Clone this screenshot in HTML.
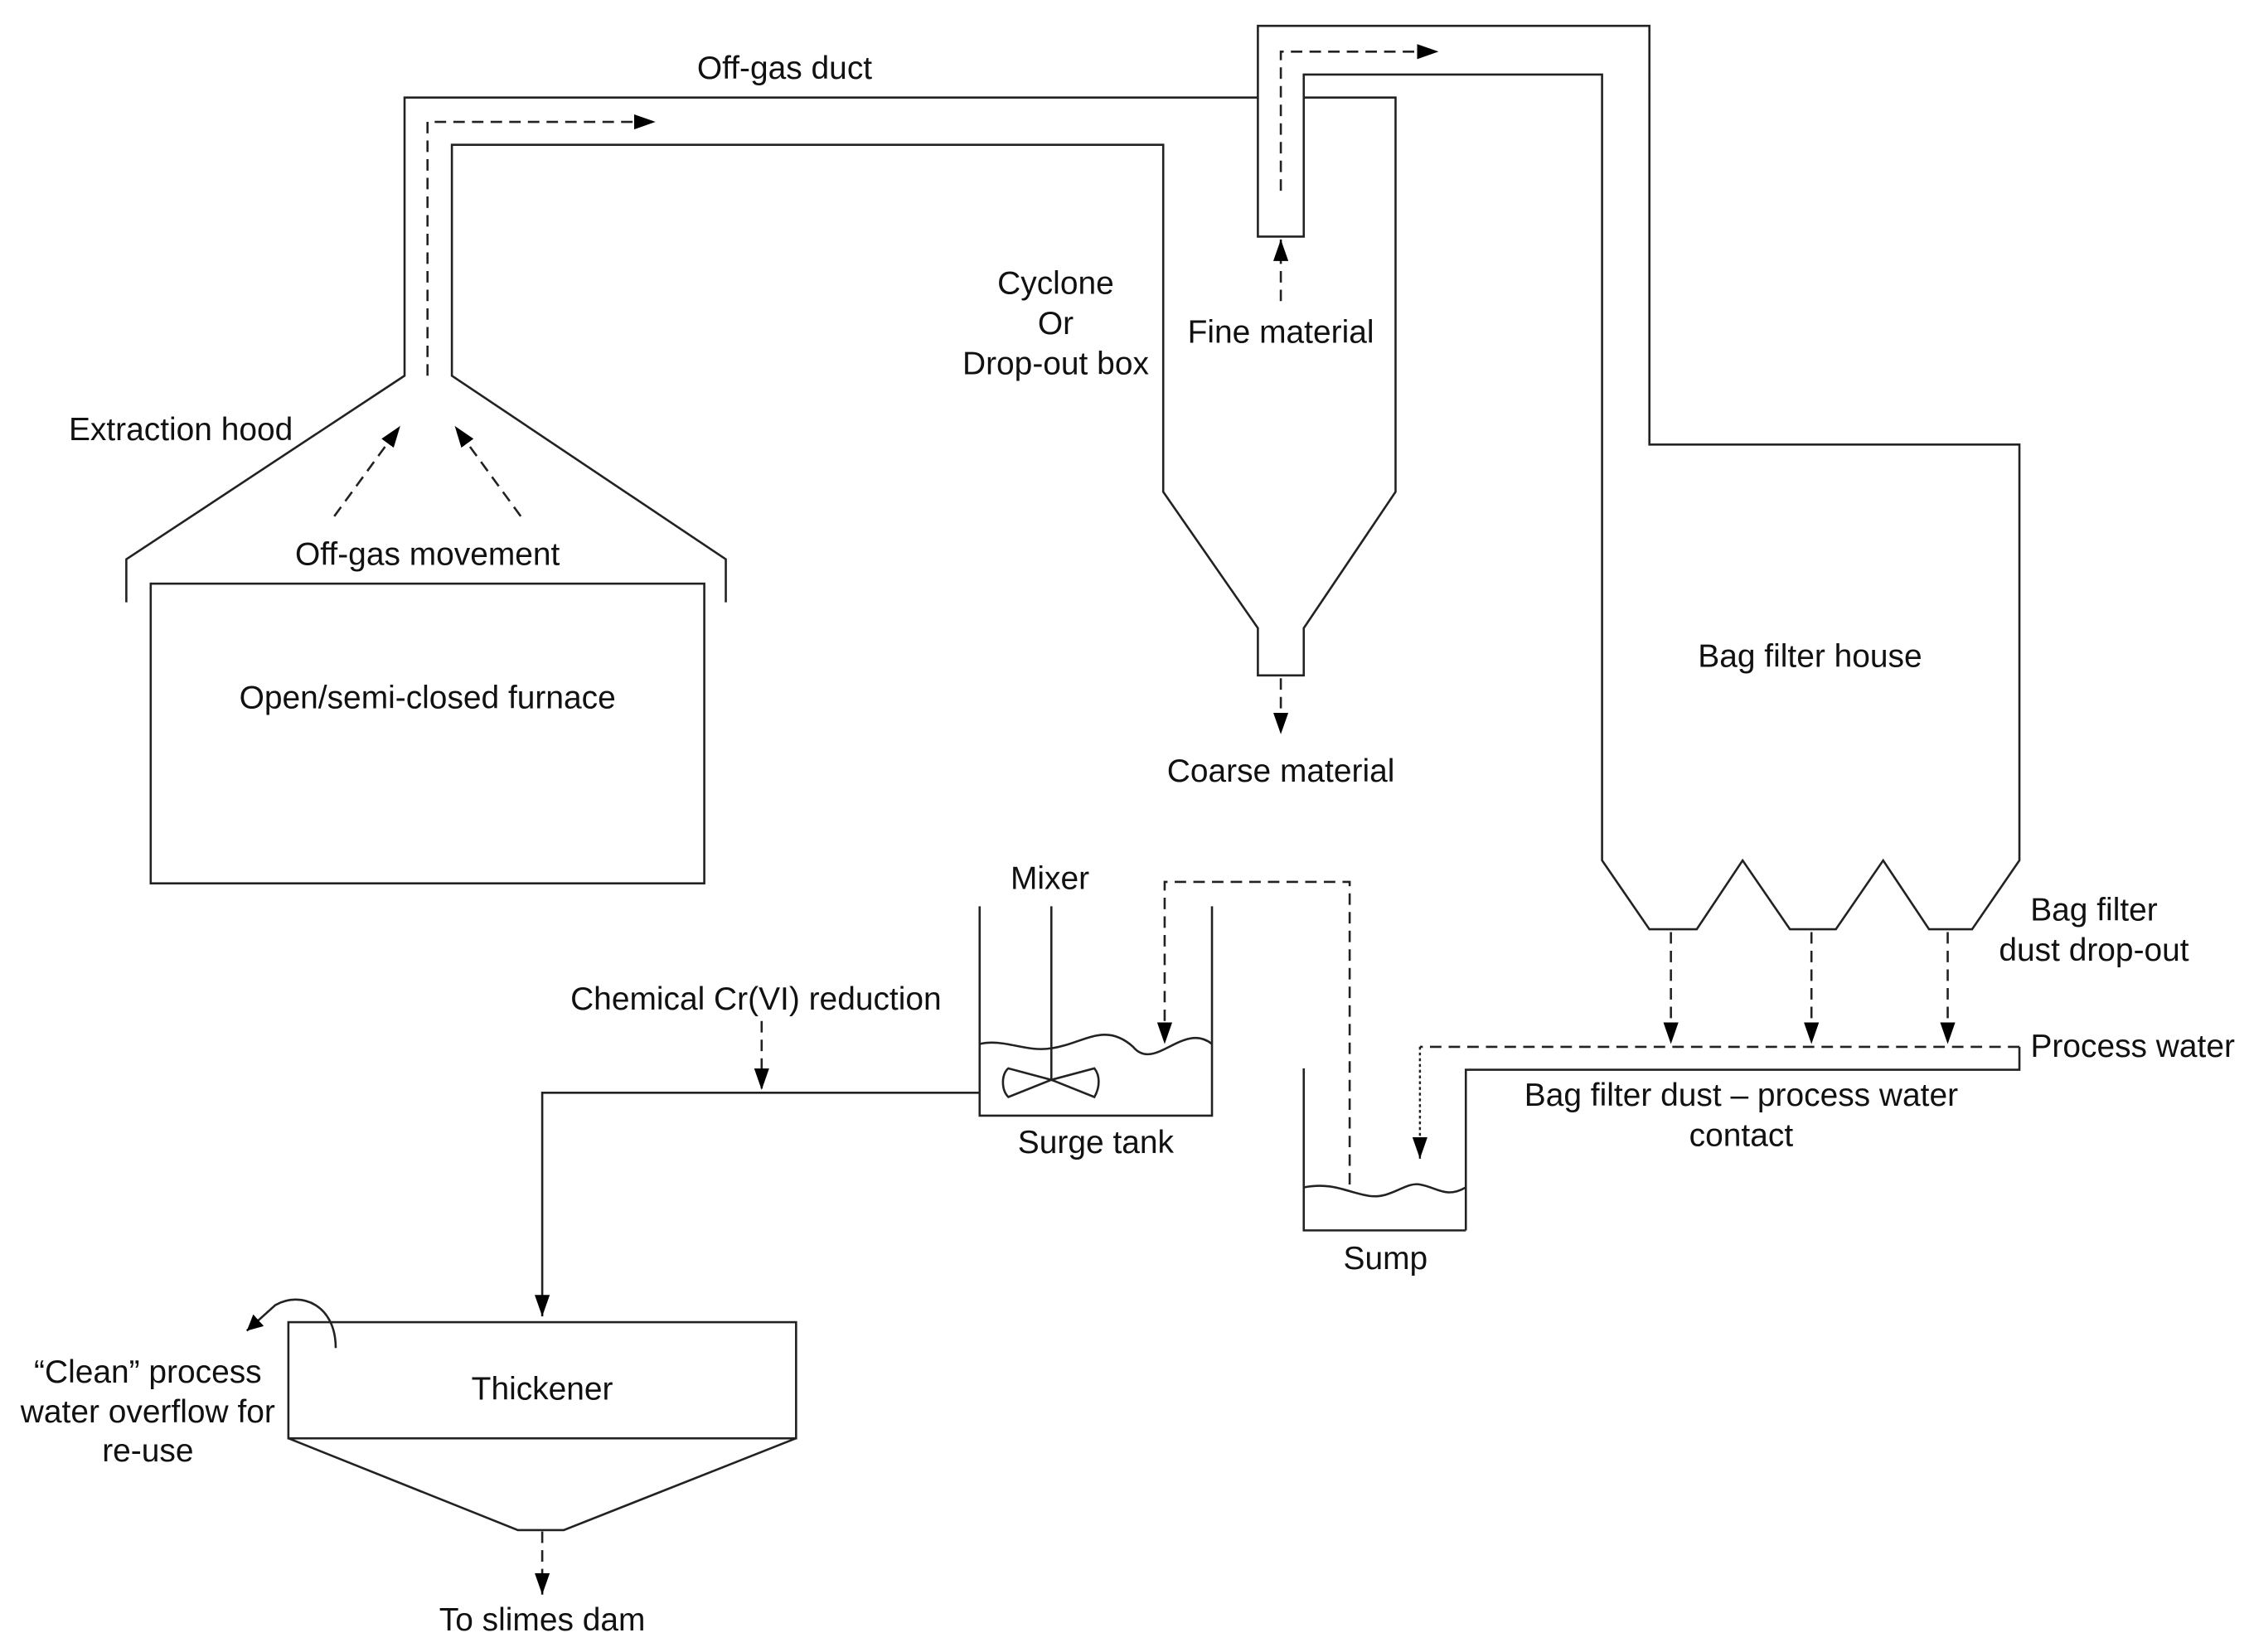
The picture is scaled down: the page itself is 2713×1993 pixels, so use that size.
<!DOCTYPE html>
<html><head><meta charset="utf-8"><style>
html,body{margin:0;padding:0;background:#fff;}
svg{display:block;}
text{font-family:"Liberation Sans",Arial,sans-serif;font-size:22.5px;fill:#111;}
</style></head><body>
<svg width="2713" height="1993" viewBox="0 0 1568 1152" xmlns="http://www.w3.org/2000/svg">
<defs>
<marker id="a" viewBox="0 0 10 10" refX="10" refY="5" markerWidth="11" markerHeight="11" markerUnits="userSpaceOnUse" orient="auto"><path d="M0,0 L10,5 L0,10 z" fill="#000"/></marker>
<marker id="b" viewBox="0 0 10 10" refX="10" refY="5" markerWidth="15" markerHeight="15" markerUnits="userSpaceOnUse" orient="auto"><path d="M0,1.5 L10,5 L0,8.5 z" fill="#000"/></marker>
</defs>
<g fill="none" stroke="#222" stroke-width="1.5">
<polyline points="88,420 88,390 282,262 282,68 877,68"/>
<polyline points="506,420 506,390 315,262 315,101 811,101 811,343 877,438 877,471 909,471 909,438 973,343 973,68 909,68"/>
<polyline points="877,68 877,165 909,165 909,52 1117,52 1117,600 1150,648 1183,648 1215,600 1248,648 1280,648 1313,600 1345,648 1375,648 1408,600 1408,310 1150,310 1150,18 877,18 877,68"/>
<rect x="105" y="407" width="386" height="209"/>
<polyline points="1022,858 1022,746 1408,746 1408,730"/>
<polyline points="909,745 909,858 1022,858"/>
<path d="M909,828 C930,824 940,832 955,834 C970,836 980,824 990,826 C1002,828 1008,836 1022,828"/>
<polyline points="683,632 683,778 845,778 845,632"/>
<line x1="733" y1="632" x2="733" y2="753"/>
<path d="M683,728 C700,724 715,734 733,731 C755,728 770,712 790,730 C805,748 825,712 845,728"/>
<path d="M733,753 L703,745 C698,749 698,760 703,765 Z M733,753 L763,745 C767,750 767,758 763,765 Z"/>
<polyline points="683,762 378,762 378,918" marker-end="url(#b)"/>
<rect x="201" y="922" width="354" height="81"/>
<polyline points="201,1003 361,1067 393,1067 555,1003"/>
<path d="M234,940 C234,910 210,900 192,910 L172,928" marker-end="url(#a)"/>
</g>
<g fill="none" stroke="#222" stroke-width="1.5" stroke-dasharray="8,5">
<polyline points="298,262 298,85 457,85" marker-end="url(#b)"/>
<polyline points="893,133 893,36 1003,36" marker-end="url(#b)"/>
<line x1="893" y1="210" x2="893" y2="167" marker-end="url(#b)"/>
<line x1="893" y1="473" x2="893" y2="512" marker-end="url(#b)"/>
<line x1="233" y1="360" x2="279" y2="297" marker-end="url(#b)"/>
<line x1="363" y1="360" x2="317" y2="297" marker-end="url(#b)"/>
<line x1="1165" y1="650" x2="1165" y2="728" marker-end="url(#b)"/>
<line x1="1263" y1="650" x2="1263" y2="728" marker-end="url(#b)"/>
<line x1="1358" y1="650" x2="1358" y2="728" marker-end="url(#b)"/>
<polyline points="1408,730 990,730"/>
<polyline points="941,826 941,615 812,615 812,728" marker-end="url(#b)"/>
<line x1="531" y1="712" x2="531" y2="760" marker-end="url(#b)"/>
<line x1="378" y1="1068" x2="378" y2="1112" marker-end="url(#b)"/>
</g>
<line x1="990" y1="730" x2="990" y2="808" stroke="#222" stroke-width="1.4" stroke-dasharray="2,2" marker-end="url(#b)"/>
<text x="547" y="55" text-anchor="middle">Off-gas duct</text>
<text x="736" y="205" text-anchor="middle">Cyclone</text>
<text x="736" y="233" text-anchor="middle">Or</text>
<text x="736" y="261" text-anchor="middle">Drop-out box</text>
<text x="893" y="239" text-anchor="middle">Fine material</text>
<text x="126" y="307" text-anchor="middle">Extraction hood</text>
<text x="298" y="394" text-anchor="middle">Off-gas movement</text>
<text x="298" y="494" text-anchor="middle">Open/semi-closed furnace</text>
<text x="893" y="545" text-anchor="middle">Coarse material</text>
<text x="1262" y="465" text-anchor="middle">Bag filter house</text>
<text x="1460" y="642" text-anchor="middle">Bag filter</text>
<text x="1460" y="670" text-anchor="middle">dust drop-out</text>
<text x="1487" y="737" text-anchor="middle">Process water</text>
<text x="1214" y="771" text-anchor="middle">Bag filter dust – process water</text>
<text x="1214" y="799" text-anchor="middle">contact</text>
<text x="732" y="620" text-anchor="middle">Mixer</text>
<text x="527" y="704" text-anchor="middle">Chemical Cr(VI) reduction</text>
<text x="764" y="804" text-anchor="middle">Surge tank</text>
<text x="966" y="885" text-anchor="middle">Sump</text>
<text x="378" y="976" text-anchor="middle">Thickener</text>
<text x="103" y="964" text-anchor="middle">“Clean” process</text>
<text x="103" y="992" text-anchor="middle">water overflow for</text>
<text x="103" y="1019" text-anchor="middle">re-use</text>
<text x="378" y="1137" text-anchor="middle">To slimes dam</text>
</svg>
</body></html>
